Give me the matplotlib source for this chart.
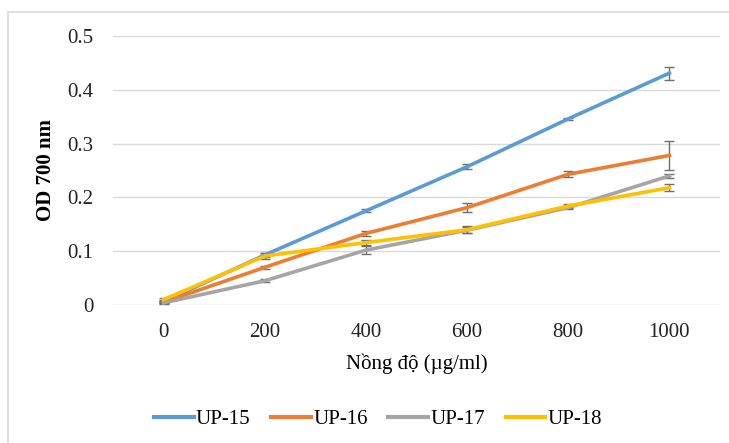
import matplotlib.pyplot as plt
from matplotlib.patches import Rectangle
from matplotlib.lines import Line2D
import numpy as np

plt.rcParams['font.family'] = ['Liberation Serif', 'DejaVu Serif']

conc = ['0', '200', '400', '600', '800', '1000']
series = ['UP-15', 'UP-16', 'UP-17', 'UP-18']
colors = ['#5B9BD5', '#ED7D31', '#A5A5A5', '#FFC000']

up15 = [0.006, 0.093, 0.175, 0.257, 0.346, 0.431]
up16 = [0.005, 0.070, 0.133, 0.181, 0.243, 0.278]
up17 = [0.004, 0.045, 0.102, 0.139, 0.181, 0.240]
up18 = [0.010, 0.091, 0.116, 0.140, 0.184, 0.218]

err15 = [0.003, 0.004, 0.003, 0.005, 0.002, 0.012]
err16 = [0.002, 0.003, 0.005, 0.008, 0.006, 0.027]
err17 = [0.002, 0.003, 0.008, 0.006, 0.003, 0.004]
err18 = [0.003, 0.005, 0.005, 0.006, 0.003, 0.006]

values = [up15, up16, up17, up18]
errors = [err15, err16, err17, err18]

fig = plt.figure(figsize=(7.29, 4.43), dpi=100)
ax = fig.add_axes([113 / 729, 1 - 305 / 443, 607 / 729, 269 / 443])

x = np.arange(len(conc))
for name, vals, errs, c in zip(series, values, errors, colors):
    ax.errorbar(x, vals, yerr=errs, color=c, lw=2.6,
                ecolor='#6f6f6f', elinewidth=1, capsize=3.5, capthick=1,
                zorder=3)

ax.set_xlim(-0.5, 5.5)
ax.set_ylim(0, 0.5)
ax.set_xticks(x)
ax.set_xticklabels(conc)
ax.set_yticks([0, 0.1, 0.2, 0.3, 0.4, 0.5])
ax.set_yticklabels(['0', '0.1', '0.2', '0.3', '0.4', '0.5'])
ax.tick_params(length=0, labelsize=15, colors='#222222')
ax.tick_params(axis='x', pad=13)
ax.tick_params(axis='y', pad=14)
for s in ax.spines.values():
    s.set_visible(False)
ax.grid(axis='y', color='#d9d9d9', lw=1)
ax.set_axisbelow(True)

ax.set_xlabel('Nồng độ (µg/ml)', fontsize=15, labelpad=8)
fig.text(46 / 729, 1 - 170 / 443, 'OD 700 nm', rotation=90, fontsize=15,
         fontweight='bold', ha='center', va='center')

handles = [Line2D([], [], color=c, lw=3) for c in colors]
fig.legend(handles, series, loc='center',
           bbox_to_anchor=(378 / 729, 1 - 419 / 443), ncol=4,
           frameon=False, fontsize=15, handlelength=1.9, handletextpad=0.1,
           columnspacing=1.0)

fig.patches.append(Rectangle((8 / 729, -0.01), 0.99, 1 - 12 / 443 + 0.01,
                             transform=fig.transFigure, fill=False,
                             edgecolor='#d9d9d9', lw=1.2))

fig.savefig('out.png', dpi=100)
